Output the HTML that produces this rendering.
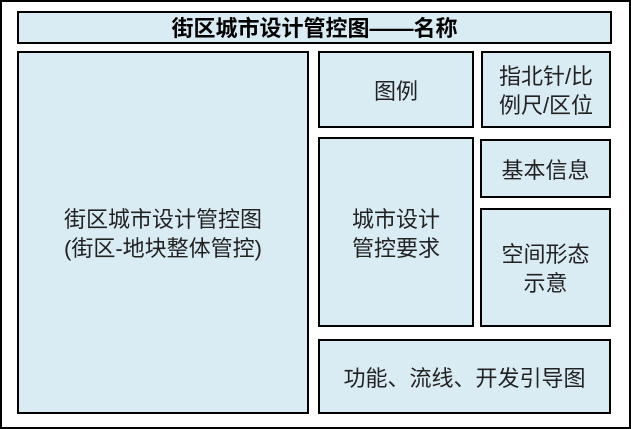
<!DOCTYPE html>
<html><head><meta charset="utf-8"><style>
body{margin:0;width:631px;height:429px;background:#fff;position:relative;overflow:hidden;font-family:"Liberation Sans","Noto Sans CJK SC",sans-serif;}
.b{position:absolute;box-sizing:border-box;border:2px solid #000;background:#daecf3;display:flex;align-items:center;justify-content:center;text-align:center;font-size:22px;line-height:29px;color:#222;padding-top:3px;}
</style></head><body>
<div style="position:absolute;left:0;top:0;width:631px;height:429px;box-sizing:border-box;border:2px solid #000;"></div>
<div class="b" style="left:17px;top:11px;width:595px;height:33px;font-weight:bold;color:#000;padding-top:1px;">街区城市设计管控图——名称</div>
<div class="b" style="left:17px;top:51px;width:292px;height:363px;">街区城市设计管控图<br>(街区-地块整体管控)</div>
<div class="b" style="left:318px;top:51px;width:156px;height:77px;">图例</div>
<div class="b" style="left:481px;top:51px;width:130px;height:77px;">指北针/比<br>例尺/区位</div>
<div class="b" style="left:318px;top:137px;width:156px;height:190px;">城市设计<br>管控要求</div>
<div class="b" style="left:480px;top:139px;width:131px;height:59px;">基本信息</div>
<div class="b" style="left:480px;top:208px;width:131px;height:119px;">空间形态<br>示意</div>
<div class="b" style="left:318px;top:339px;width:293px;height:75px;">功能、流线、开发引导图</div>
</body></html>
